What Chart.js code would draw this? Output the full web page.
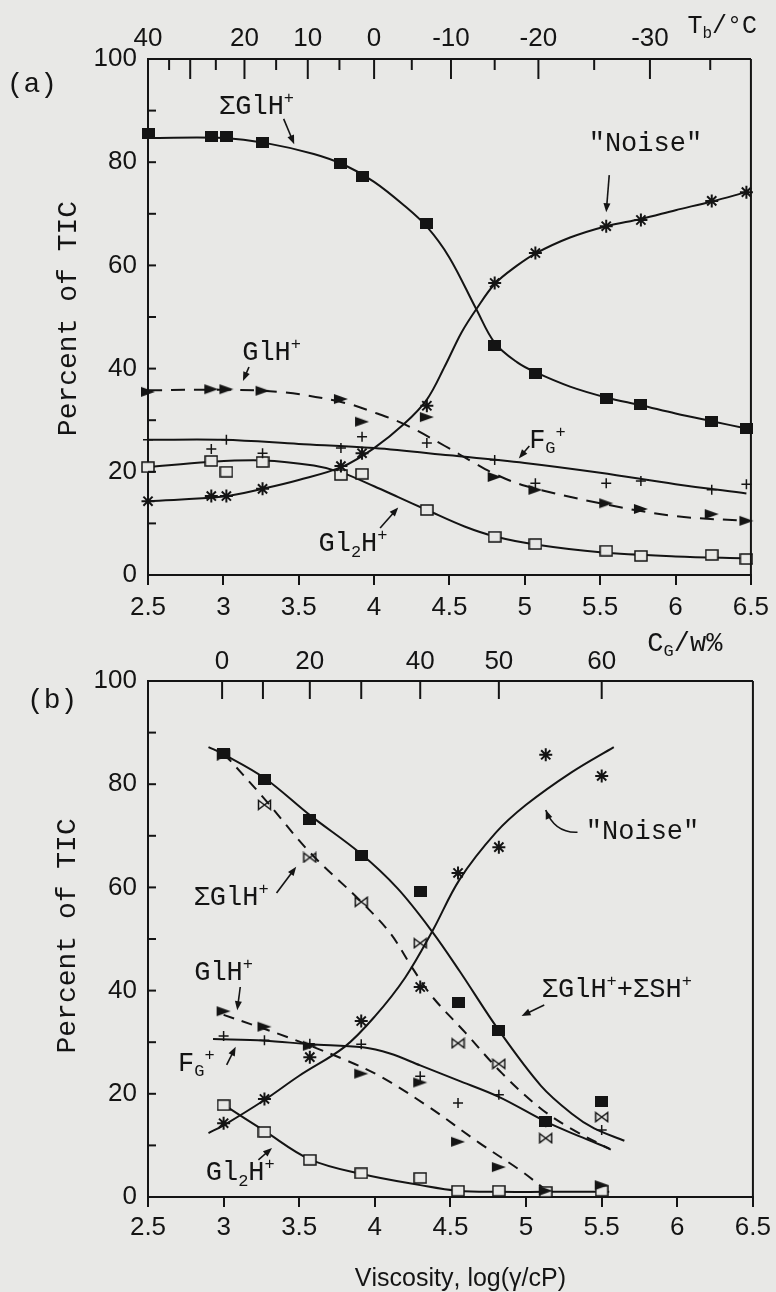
<!DOCTYPE html>
<html>
<head>
<meta charset="utf-8">
<title>Percent of TIC vs viscosity</title>
<script src="https://cdn.jsdelivr.net/npm/chart.js@4.4.0/dist/chart.umd.min.js"></script>
<style>
  html, body { margin: 0; padding: 0; background: #e8e8e6; }
  #wrap { position: relative; width: 776px; height: 1292px; }
  canvas { position: absolute; left: 0; }
  #chartA { top: 0; }
  #chartB { top: 630px; }
</style>
</head>
<body>
<div id="wrap">
  <canvas id="chartA" width="776" height="630"></canvas>
  <canvas id="chartB" width="776" height="662"></canvas>
</div>
<script>
const INK = '#141414';
const PAPER = '#e8e8e6';
const MONO = "'Liberation Mono', 'Courier New', monospace";
const SANS = "'Liberation Sans', Arial, sans-serif";

// ---- Panel (a): series measured against bath temperature ----
const A_VISC = [2.5, 2.92, 3.02, 3.26, 3.78, 3.92, 4.35, 4.80, 5.07, 5.54, 5.77, 6.24, 6.47];
const A_SUM_GLH = [85.5, 85.0, 85.0, 83.8, 79.7, 77.3, 68.2, 44.4, 39.1, 34.3, 33.1, 29.7, 28.3];
const A_NOISE = [14.3, 15.3, 15.3, 16.7, 21.1, 23.6, 32.8, 56.6, 62.4, 67.6, 68.8, 72.5, 74.2];
const A_GLH = [35.5, 36.0, 36.0, 35.7, 34.1, 29.7, 30.6, 19.0, 16.5, 13.9, 12.8, 11.8, 10.5];
const A_FG = [26.2, 24.4, 26.2, 23.6, 24.6, 26.8, 25.6, 22.3, 17.8, 17.8, 18.2, 16.5, 17.6];
const A_GL2H = [20.9, 22.1, 20.0, 21.9, 19.4, 19.6, 12.6, 7.4, 6.0, 4.7, 3.7, 3.9, 3.1];

// hand-drawn trend curves of panel (a), [viscosity, percent]
const A_SUM_GLH_FIT = [[2.5, 84.7], [3.0, 84.7], [3.3, 83.6], [3.6, 81.6], [3.8, 79.5], [4.0, 76.2], [4.2, 71.6], [4.35, 67.5], [4.5, 61.5], [4.68, 51.4], [4.8, 45.0], [4.95, 41.2], [5.07, 39.3], [5.3, 36.5], [5.54, 34.4], [5.77, 32.9], [6.0, 31.3], [6.24, 29.8], [6.47, 28.4]];
const A_NOISE_FIT = [[2.5, 14.3], [3.0, 15.2], [3.26, 16.7], [3.5, 18.4], [3.79, 21.0], [4.0, 24.6], [4.2, 29.3], [4.35, 34.0], [4.47, 40.5], [4.58, 47.0], [4.68, 51.6], [4.8, 56.4], [4.95, 60.0], [5.07, 62.3], [5.3, 65.4], [5.54, 67.6], [5.77, 69.0], [6.0, 70.7], [6.24, 72.4], [6.47, 74.2]];
const A_GLH_FIT = [[2.5, 35.8], [3.0, 35.9], [3.4, 35.4], [3.8, 33.4], [4.02, 31.3], [4.21, 29.1], [4.47, 25.0], [4.66, 21.8], [4.8, 19.6], [5.0, 17.3], [5.5, 13.9], [6.0, 11.4], [6.47, 10.5]];
const A_FG_FIT = [[2.5, 26.2], [3.0, 26.2], [3.5, 25.4], [4.0, 24.6], [4.5, 23.2], [5.0, 21.7], [5.5, 19.8], [6.0, 17.6], [6.47, 15.8]];
const A_GL2H_FIT = [[2.5, 20.9], [2.9, 21.9], [3.26, 22.2], [3.6, 21.2], [3.79, 19.8], [4.0, 17.2], [4.16, 15.1], [4.35, 12.6], [4.6, 9.4], [4.81, 7.4], [5.07, 5.9], [5.5, 4.4], [6.0, 3.6], [6.47, 3.2]];

// upper scale of panel (a): bath temperature in degrees C
const TB_TICK_VALUES = [40, 35, 30, 25, 20, 15, 10, 5, 0, -5, -10, -15, -20, -25, -30, -35];
const TB_TICK_POS = [2.5, 2.64, 2.78, 2.95, 3.14, 3.35, 3.56, 3.77, 4.0, 4.25, 4.51, 4.80, 5.09, 5.46, 5.83, 6.23];
const TB_LABEL_VALUES = [40, 20, 10, 0, -10, -20, -30];

// ---- Panel (b): series measured against glycerol content ----
const B_VISC = [3.0, 3.27, 3.57, 3.91, 4.30, 4.55, 4.82, 5.13, 5.50];
const B_SUM_ALL = [86.0, 81.0, 73.1, 66.1, 59.3, 37.6, 32.2, 14.7, 18.6];
const B_SUM_GLH = [85.6, 76.0, 65.8, 57.2, 49.2, 29.8, 25.8, 11.4, 15.5];
const B_NOISE = [14.3, 19.0, 27.1, 34.1, 40.7, 62.8, 67.8, 85.7, 81.6];
const B_GLH = [36.0, 33.0, 29.3, 23.9, 22.2, 10.7, 5.8, 1.2, 2.3];
const B_FG = [31.2, 30.4, 29.7, 29.6, 23.4, 18.2, 19.8, 14.5, 13.0];
const B_GL2H = [17.8, 12.6, 7.2, 4.6, 3.7, 1.2, 1.2, 1.0, 1.2];

const B_SUM_ALL_FIT = [[2.9, 87.2], [3.0, 85.8], [3.27, 81.2], [3.57, 74.0], [3.9, 66.7], [4.15, 59.8], [4.38, 51.4], [4.56, 43.8], [4.82, 32.3], [5.1, 21.5], [5.3, 16.2], [5.45, 13.3], [5.65, 10.9]];
const B_SUM_GLH_FIT = [[3.0, 86.0], [3.26, 77.5], [3.57, 66.8], [3.9, 57.5], [4.1, 51.2], [4.25, 44.3], [4.38, 38.8], [4.6, 31.8], [4.84, 24.0], [5.09, 17.3], [5.3, 13.2], [5.56, 9.2]];
const B_NOISE_FIT = [[2.9, 12.4], [3.0, 13.9], [3.27, 18.8], [3.5, 23.5], [3.8, 29.1], [4.0, 35.0], [4.2, 42.5], [4.38, 51.5], [4.56, 61.5], [4.8, 70.6], [5.0, 76.0], [5.3, 82.3], [5.58, 87.2]];
const B_GLH_FIT = [[3.0, 35.3], [3.42, 31.0], [3.81, 26.5], [4.04, 23.3], [4.36, 17.4], [4.69, 10.5], [4.96, 5.2], [5.13, 1.4]];
const B_FG_FIT = [[2.93, 30.6], [3.27, 30.3], [3.57, 29.6], [3.92, 29.0], [4.1, 27.8], [4.3, 25.5], [4.55, 22.6], [4.82, 19.4], [5.13, 14.6], [5.35, 11.8], [5.55, 9.4]];
const B_GL2H_FIT = [[3.02, 17.5], [3.27, 12.8], [3.57, 7.3], [3.92, 4.4], [4.3, 2.3], [4.55, 1.2], [4.82, 1.0], [5.13, 1.0], [5.55, 1.0]];

// upper scale of panel (b): glycerol content in w%
const CG_TICK_VALUES = [0, 10, 20, 30, 40, 50, 60];
const CG_TICK_POS = [2.99, 3.26, 3.57, 3.91, 4.30, 4.82, 5.50];
const CG_LABEL_VALUES = [0, 20, 40, 50, 60];

// Marker glyphs drawn once on small canvases
function makeMark(w, h, paint) {
    const c = document.createElement('canvas');
    c.width = w;
    c.height = h;
    const g = c.getContext('2d');
    g.fillStyle = INK;
    g.strokeStyle = INK;
    g.lineWidth = 1.5;
    paint(g, w, h);
    return c;
}

const FILLED_SQUARE = makeMark(13, 11, (g, w, h) => g.fillRect(0, 0, w, h));
const OPEN_SQUARE = makeMark(14, 12, (g, w, h) => {
    g.fillStyle = PAPER;
    g.fillRect(1, 1, w - 2, h - 2);
    g.strokeRect(1, 1, w - 2, h - 2);
});
const RIGHT_TRIANGLE = makeMark(16, 12, (g, w, h) => {
    g.beginPath();
    g.moveTo(1, 1);
    g.lineTo(w - 1, h / 2);
    g.lineTo(1, h - 1);
    g.closePath();
    g.fill();
});
const BOWTIE = makeMark(15, 12, (g, w, h) => {
    g.beginPath();
    g.moveTo(1.5, 1.5);
    g.lineTo(w - 1.5, h - 1.5);
    g.lineTo(w - 1.5, 1.5);
    g.lineTo(1.5, h - 1.5);
    g.closePath();
    g.stroke();
});

// Dataset builders
function markers(xs, ys, style, radius, width) {
    return {
        data: xs.map((x, i) => ({ x, y: ys[i] })),
        showLine: false,
        pointStyle: style,
        pointRadius: radius || 6,
        pointBorderWidth: width || 1.5,
        pointBorderColor: INK,
        pointBackgroundColor: INK,
        clip: false,
        order: 0
    };
}

function curve(list, dash) {
    return {
        data: list.map(([x, y]) => ({ x, y })),
        showLine: true,
        pointRadius: 0,
        borderColor: INK,
        borderWidth: 2,
        borderDash: dash || [],
        tension: 0.35,
        fill: false,
        clip: false,
        order: 1
    };
}

// Text with _x subscripts and ^x superscripts, centred on (cx, cy)
function drawRich(ctx, text, cx, cy, size, family) {
    const runs = [];
    for (let i = 0; i < text.length; i++) {
        const ch = text[i];
        if ((ch === '_' || ch === '^') && i + 1 < text.length) {
            runs.push({ t: text[i + 1], kind: ch });
            i++;
        } else {
            runs.push({ t: ch, kind: '' });
        }
    }
    const small = Math.round(size * 0.62);
    let total = 0;
    runs.forEach(r => {
        ctx.font = `${r.kind ? small : size}px ${family}`;
        r.w = ctx.measureText(r.t).width;
        total += r.w;
    });
    ctx.textAlign = 'left';
    ctx.textBaseline = 'alphabetic';
    let x = cx - total / 2;
    const base = cy + size * 0.3;
    runs.forEach(r => {
        ctx.font = `${r.kind ? small : size}px ${family}`;
        const dy = r.kind === '_' ? size * 0.2 : r.kind === '^' ? -size * 0.42 : 0;
        ctx.fillText(r.t, x, base + dy);
        x += r.w;
    });
}

function segment(ctx, x1, y1, x2, y2) {
    ctx.beginPath();
    ctx.moveTo(x1, y1);
    ctx.lineTo(x2, y2);
    ctx.stroke();
}

function arrowHead(ctx, x, y, ang) {
    const len = 9, half = 3.5;
    ctx.beginPath();
    ctx.moveTo(x, y);
    ctx.lineTo(x - len * Math.cos(ang) + half * Math.sin(ang), y - len * Math.sin(ang) - half * Math.cos(ang));
    ctx.lineTo(x - len * Math.cos(ang) - half * Math.sin(ang), y - len * Math.sin(ang) + half * Math.cos(ang));
    ctx.closePath();
    ctx.fill();
}

// Frame, inward ticks, labels and pointer arrows for one panel
function overlay(cfg) {
    return {
        id: 'overlay',
        afterDraw(chart) {
            const { ctx, chartArea: area, scales } = chart;
            const px = v => scales.x.getPixelForValue(v);
            const py = v => scales.y.getPixelForValue(v);
            ctx.save();
            ctx.strokeStyle = INK;
            ctx.fillStyle = INK;
            ctx.lineWidth = 2;

            segment(ctx, area.right, area.top, area.right, area.bottom);
            for (let v = 0; v <= 100; v += 10) {
                segment(ctx, area.left, py(v), area.left + 8, py(v));
            }
            cfg.topTickPos.forEach((pos, i) => {
                const len = cfg.topTickLength(cfg.topTickValues[i]);
                segment(ctx, px(pos), area.top, px(pos), area.top + len);
            });

            ctx.lineWidth = 1.6;
            cfg.notes.forEach(n => {
                drawRich(ctx, n.text, px(n.at[0]), py(n.at[1]), n.size || 27, n.family || MONO);
                if (n.arrow) {
                    const [x1, y1, x2, y2] = n.arrow.map((v, i) => (i % 2 ? py(v) : px(v)));
                    const ang = Math.atan2(y2 - y1, x2 - x1);
                    segment(ctx, x1, y1, x2 - 5 * Math.cos(ang), y2 - 5 * Math.sin(ang));
                    arrowHead(ctx, x2, y2, ang);
                }
                if (n.bend) {
                    const [x1, y1, cx, cy, x2, y2] = n.bend.map((v, i) => (i % 2 ? py(v) : px(v)));
                    ctx.beginPath();
                    ctx.moveTo(x1, y1);
                    ctx.quadraticCurveTo(cx, cy, x2, y2);
                    ctx.stroke();
                    arrowHead(ctx, x2, y2, Math.atan2(y2 - cy, x2 - cx));
                }
            });

            // vertical axis title
            ctx.save();
            ctx.translate(px(cfg.yTitleAt[0]), py(cfg.yTitleAt[1]));
            ctx.rotate(-Math.PI / 2);
            ctx.font = `28px ${MONO}`;
            ctx.textAlign = 'center';
            ctx.textBaseline = 'middle';
            ctx.fillText('Percent of TIC', 0, 0);
            ctx.restore();

            ctx.restore();
        }
    };
}

function scaleOptions(cfg) {
    const tickFont = { family: SANS, size: 26 };
    return {
        x: {
            type: 'linear',
            position: 'bottom',
            min: 2.5,
            max: 6.5,
            afterFit: s => { s.height = cfg.bottomHeight; },
            border: { display: true, color: INK, width: 2 },
            grid: { display: true, drawOnChartArea: false, drawTicks: true, tickLength: 10, color: INK, lineWidth: 2 },
            ticks: {
                stepSize: 0.5,
                autoSkip: false,
                maxRotation: 0,
                padding: cfg.bottomPad,
                font: tickFont,
                color: INK,
                callback: value => String(Math.round(value * 10) / 10)
            }
        },
        x2: {
            type: 'linear',
            position: 'top',
            min: 2.5,
            max: 6.5,
            afterFit: s => { s.height = cfg.topHeight; },
            afterBuildTicks: s => {
                s.ticks = cfg.topLabelValues.map(v => ({ value: cfg.topTickPos[cfg.topTickValues.indexOf(v)] }));
            },
            border: { display: true, color: INK, width: 2 },
            grid: { display: false, drawTicks: false },
            ticks: {
                autoSkip: false,
                maxRotation: 0,
                padding: cfg.topPad,
                font: tickFont,
                color: INK,
                callback: (value, i) => String(cfg.topLabelValues[i])
            }
        },
        y: {
            type: 'linear',
            position: 'left',
            min: 0,
            max: 100,
            afterFit: s => { s.width = 148; },
            border: { display: true, color: INK, width: 2 },
            grid: { display: false, drawTicks: false },
            ticks: { stepSize: 20, padding: 11, font: tickFont, color: INK }
        }
    };
}

function buildChart(canvasId, datasets, cfg) {
    return new Chart(document.getElementById(canvasId), {
        type: 'line',
        data: { datasets },
        options: {
            responsive: false,
            animation: false,
            devicePixelRatio: 1,
            layout: { padding: { left: 0, right: 22, top: 0, bottom: 0 } },
            plugins: { legend: { display: false }, tooltip: { enabled: false } },
            scales: scaleOptions(cfg)
        },
        plugins: [overlay(cfg)]
    });
}

// Panel (a)
buildChart('chartA', [
    markers(A_VISC, A_SUM_GLH, FILLED_SQUARE),
    markers(A_VISC, A_NOISE, 'star', 6.5, 2),
    markers(A_VISC, A_GLH, RIGHT_TRIANGLE),
    markers(A_VISC, A_FG, 'cross', 5, 1.5),
    markers(A_VISC, A_GL2H, OPEN_SQUARE),
    curve(A_SUM_GLH_FIT),
    curve(A_NOISE_FIT),
    curve(A_GLH_FIT, [14, 9]),
    curve(A_FG_FIT),
    curve(A_GL2H_FIT)
], {
    topHeight: 59,
    topPad: 5,
    bottomHeight: 55,
    bottomPad: 7,
    topTickValues: TB_TICK_VALUES,
    topTickPos: TB_TICK_POS,
    topLabelValues: TB_LABEL_VALUES,
    topTickLength: v => (v % 10 === 0 ? 20 : 11),
    yTitleAt: [1.97, 49.7],
    notes: [
        { text: '(a)', at: [1.73, 95.2], size: 28 },
        { text: 'T_b/°C', at: [6.31, 106.4], size: 25 },
        { text: 'ΣGlH^+', at: [3.22, 90.9], arrow: [3.40, 88.4, 3.47, 83.5] },
        { text: '"Noise"', at: [5.80, 83.7], arrow: [5.56, 77.5, 5.54, 70.3] },
        { text: 'GlH^+', at: [3.32, 43.2], arrow: [3.17, 40.3, 3.13, 37.6] },
        { text: 'F_G^+', at: [5.15, 26.2], arrow: [5.03, 25.0, 4.96, 22.6] },
        { text: 'Gl_2H^+', at: [3.86, 6.2], arrow: [4.04, 9.1, 4.16, 13.1] }
    ]
});

// Panel (b)
buildChart('chartB', [
    markers(B_VISC, B_SUM_ALL, FILLED_SQUARE),
    markers(B_VISC, B_SUM_GLH, BOWTIE),
    markers(B_VISC, B_NOISE, 'star', 6.5, 2),
    markers(B_VISC, B_GLH, RIGHT_TRIANGLE),
    markers(B_VISC, B_FG, 'cross', 5, 1.5),
    markers(B_VISC, B_GL2H, OPEN_SQUARE),
    curve(B_SUM_ALL_FIT),
    curve(B_SUM_GLH_FIT, [11, 8]),
    curve(B_NOISE_FIT),
    curve(B_GLH_FIT, [11, 8]),
    curve(B_FG_FIT),
    curve(B_GL2H_FIT)
], {
    topHeight: 51,
    topPad: 4,
    bottomHeight: 95,
    bottomPad: 5,
    topTickValues: CG_TICK_VALUES,
    topTickPos: CG_TICK_POS,
    topLabelValues: CG_LABEL_VALUES,
    topTickLength: () => 18,
    yTitleAt: [1.97, 50.6],
    notes: [
        { text: '(b)', at: [1.866, 96.3], size: 28 },
        { text: 'C_G/w%', at: [6.05, 107.4], size: 27 },
        { text: '"Noise"', at: [5.77, 70.9], bend: [5.34, 70.7, 5.19, 70.5, 5.13, 75.0] },
        { text: 'ΣGlH^+', at: [3.05, 58.1], arrow: [3.35, 58.9, 3.48, 64.0] },
        { text: 'GlH^+', at: [3.0, 43.6], arrow: [3.11, 40.7, 3.09, 36.2] },
        { text: 'F_G^+', at: [2.82, 26.0], arrow: [3.02, 25.6, 3.08, 29.1] },
        { text: 'Gl_2H^+', at: [3.11, 4.8], arrow: [3.23, 7.2, 3.32, 9.5] },
        { text: 'ΣGlH^++ΣSH^+', at: [5.60, 40.3], arrow: [5.12, 37.2, 4.97, 35.1] },
        { text: 'Viscosity, log(γ/cP)', at: [4.566, -15.7], size: 25, family: SANS }
    ]
});
</script>
</body>
</html>
